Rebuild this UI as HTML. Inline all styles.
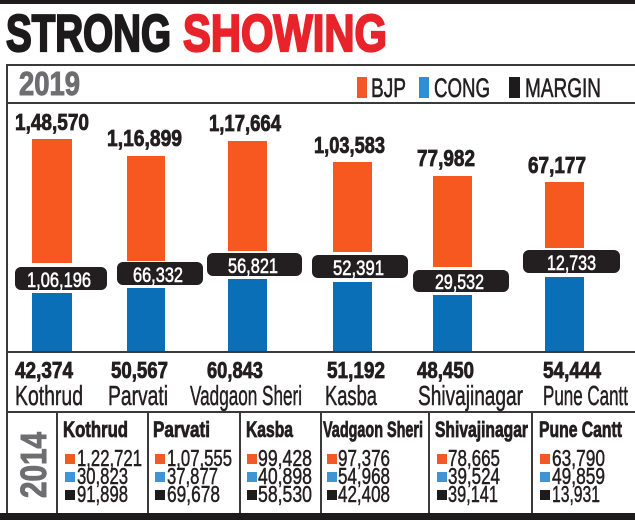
<!DOCTYPE html>
<html><head><meta charset="utf-8"><style>
html,body{margin:0;padding:0;background:#fff;}
svg{display:block;}
text{font-family:"Liberation Sans",sans-serif;}
.b{font-weight:bold;}
</style></head><body>
<svg width="635" height="520" viewBox="0 0 635 520" xmlns="http://www.w3.org/2000/svg">
<rect x="0" y="0" width="635" height="520" fill="#fff"/>
<rect x="0" y="0" width="635" height="4" fill="#1d1b1c"/>
<!-- title -->
<text class="b" x="6" y="51" font-size="52" fill="#1c1a1b" stroke="#1c1a1b" stroke-width="2.2" textLength="165" lengthAdjust="spacingAndGlyphs">STRONG</text>
<text class="b" x="183" y="51" font-size="52" fill="#e8232a" stroke="#e8232a" stroke-width="2.2" textLength="204" lengthAdjust="spacingAndGlyphs">SHOWING</text>
<!-- frame -->
<g stroke="#3a3a3a" stroke-width="2" fill="none">
<line x1="7" y1="65" x2="635" y2="65"/>
<line x1="7" y1="103" x2="635" y2="103"/>
<line x1="7" y1="352" x2="635" y2="352"/>
<line x1="7" y1="412" x2="635" y2="412"/>
<line x1="7" y1="64" x2="7" y2="514"/>
<line x1="57" y1="412" x2="57" y2="513"/>
<line x1="148" y1="412" x2="148" y2="513"/>
<line x1="240" y1="412" x2="240" y2="513"/>
<line x1="321" y1="412" x2="321" y2="513"/>
<line x1="429" y1="412" x2="429" y2="513"/>
<line x1="532" y1="412" x2="532" y2="513"/>
</g>
<rect x="0" y="513" width="635" height="7" fill="#1d1b1c"/>
<!-- header -->
<text class="b" x="19" y="95" font-size="33" fill="#6e6e70" stroke="#6e6e70" stroke-width="1" textLength="61" lengthAdjust="spacingAndGlyphs">2019</text>
<rect x="357" y="77" width="10" height="21" fill="#f15a24"/>
<text x="371" y="97" font-size="27" fill="#231f20" stroke="#231f20" stroke-width="0.6" textLength="35" lengthAdjust="spacingAndGlyphs">BJP</text>
<rect x="419" y="77" width="10" height="21" fill="#2e8fd6"/>
<text x="434" y="97" font-size="27" fill="#231f20" stroke="#231f20" stroke-width="0.6" textLength="56" lengthAdjust="spacingAndGlyphs">CONG</text>
<rect x="509" y="77" width="11" height="21" fill="#1d1b1c"/>
<text x="525" y="97" font-size="27" fill="#231f20" stroke="#231f20" stroke-width="0.6" textLength="76" lengthAdjust="spacingAndGlyphs">MARGIN</text>
<!-- bars -->
<g fill="#f7581f">
<rect x="32" y="139" width="40" height="124"/>
<rect x="127" y="156" width="38" height="105"/>
<rect x="228" y="141" width="39" height="110"/>
<rect x="333" y="162" width="39" height="90"/>
<rect x="433" y="176" width="39" height="91"/>
<rect x="545" y="182" width="39" height="66"/>
</g>
<g fill="#0b6fb8">
<rect x="32" y="293" width="40" height="58"/>
<rect x="127" y="288" width="38" height="63"/>
<rect x="228" y="279" width="39" height="72"/>
<rect x="333" y="282" width="39" height="69"/>
<rect x="433" y="295" width="39" height="56"/>
<rect x="545" y="277" width="39" height="74"/>
</g>
<!-- pills -->
<g fill="#231f20">
<rect x="15" y="267" width="92" height="23" rx="6"/>
<rect x="117" y="262" width="86" height="23" rx="6"/>
<rect x="207" y="253" width="95" height="23" rx="6"/>
<rect x="312" y="255" width="96" height="23" rx="6"/>
<rect x="413" y="270" width="96" height="22" rx="6"/>
<rect x="523" y="250" width="97" height="23" rx="6"/>
</g>
<g fill="#fff" stroke="#fff" stroke-width="0.6" font-size="21">
<text x="27" y="287" textLength="64" lengthAdjust="spacingAndGlyphs">1,06,196</text>
<text x="133" y="282" textLength="50" lengthAdjust="spacingAndGlyphs">66,332</text>
<text x="228" y="273" textLength="50" lengthAdjust="spacingAndGlyphs">56,821</text>
<text x="333" y="275" textLength="51" lengthAdjust="spacingAndGlyphs">52,391</text>
<text x="435" y="289" textLength="49" lengthAdjust="spacingAndGlyphs">29,532</text>
<text x="547" y="270" textLength="49" lengthAdjust="spacingAndGlyphs">12,733</text>
</g>
<!-- top labels -->
<g font-size="23" fill="#231f20" stroke="#231f20" stroke-width="0.8" font-weight="bold">
<text x="15" y="130" textLength="74" lengthAdjust="spacingAndGlyphs">1,48,570</text>
<text x="107" y="146" textLength="75" lengthAdjust="spacingAndGlyphs">1,16,899</text>
<text x="209" y="131" textLength="72" lengthAdjust="spacingAndGlyphs">1,17,664</text>
<text x="314" y="153" textLength="71" lengthAdjust="spacingAndGlyphs">1,03,583</text>
<text x="417" y="166" textLength="58" lengthAdjust="spacingAndGlyphs">77,982</text>
<text x="528" y="173" textLength="58" lengthAdjust="spacingAndGlyphs">67,177</text>
</g>
<!-- bottom labels -->
<g font-size="23" fill="#231f20" stroke="#231f20" stroke-width="0.8" font-weight="bold">
<text x="15" y="378" textLength="58" lengthAdjust="spacingAndGlyphs">42,374</text>
<text x="111" y="378" textLength="57" lengthAdjust="spacingAndGlyphs">50,567</text>
<text x="207" y="378" textLength="56" lengthAdjust="spacingAndGlyphs">60,843</text>
<text x="327" y="378" textLength="58" lengthAdjust="spacingAndGlyphs">51,192</text>
<text x="417" y="378" textLength="57" lengthAdjust="spacingAndGlyphs">48,450</text>
<text x="543" y="378" textLength="58" lengthAdjust="spacingAndGlyphs">54,444</text>
</g>
<g font-size="28" fill="#231f20" stroke="#231f20" stroke-width="0.5">
<text x="15" y="405" textLength="68" lengthAdjust="spacingAndGlyphs">Kothrud</text>
<text x="108" y="405" textLength="60" lengthAdjust="spacingAndGlyphs">Parvati</text>
<text x="190" y="405" textLength="112" lengthAdjust="spacingAndGlyphs">Vadgaon Sheri</text>
<text x="325" y="405" textLength="52" lengthAdjust="spacingAndGlyphs">Kasba</text>
<text x="418" y="405" textLength="105" lengthAdjust="spacingAndGlyphs">Shivajinagar</text>
<text x="543" y="405" textLength="85" lengthAdjust="spacingAndGlyphs">Pune Cantt</text>
</g>
<!-- 2014 -->
<text class="b" x="0" y="0" font-size="36" fill="#6e6e70" stroke="#6e6e70" stroke-width="1" textLength="66" lengthAdjust="spacingAndGlyphs" transform="translate(46,498) rotate(-90)">2014</text>
<g font-size="22" fill="#231f20" stroke="#231f20" stroke-width="0.8" font-weight="bold">
<text x="63" y="437" textLength="65" lengthAdjust="spacingAndGlyphs">Kothrud</text>
<text x="153" y="437" textLength="57" lengthAdjust="spacingAndGlyphs">Parvati</text>
<text x="246" y="437" textLength="47" lengthAdjust="spacingAndGlyphs">Kasba</text>
<text x="323" y="437" textLength="100" lengthAdjust="spacingAndGlyphs">Vadgaon Sheri</text>
<text x="435" y="437" textLength="93" lengthAdjust="spacingAndGlyphs">Shivajinagar</text>
<text x="539" y="437" textLength="83" lengthAdjust="spacingAndGlyphs">Pune Cantt</text>
</g>
<!-- squares -->
<g fill="#f15a24">
<rect x="65" y="454" width="10" height="10"/><rect x="155" y="454" width="10" height="10"/><rect x="247" y="454" width="10" height="10"/>
<rect x="327" y="454" width="10" height="10"/><rect x="437" y="454" width="10" height="10"/><rect x="540" y="454" width="10" height="10"/>
</g>
<g fill="#3d95d6">
<rect x="65" y="472" width="10" height="10"/><rect x="155" y="472" width="10" height="10"/><rect x="247" y="472" width="10" height="10"/>
<rect x="327" y="472" width="10" height="10"/><rect x="437" y="472" width="10" height="10"/><rect x="540" y="472" width="10" height="10"/>
</g>
<g fill="#1d1b1c">
<rect x="65" y="490" width="10" height="10"/><rect x="155" y="490" width="10" height="10"/><rect x="247" y="490" width="10" height="10"/>
<rect x="327" y="490" width="10" height="10"/><rect x="437" y="490" width="10" height="10"/><rect x="540" y="490" width="10" height="10"/>
</g>
<g font-size="23" fill="#231f20" stroke="#231f20" stroke-width="0.5">
<text x="77" y="466" textLength="65" lengthAdjust="spacingAndGlyphs">1,22,721</text>
<text x="77" y="484" textLength="51" lengthAdjust="spacingAndGlyphs">30,823</text>
<text x="77" y="502" textLength="51" lengthAdjust="spacingAndGlyphs">91,898</text>
<text x="167" y="466" textLength="65" lengthAdjust="spacingAndGlyphs">1,07,555</text>
<text x="167" y="484" textLength="51" lengthAdjust="spacingAndGlyphs">37,877</text>
<text x="167" y="502" textLength="53" lengthAdjust="spacingAndGlyphs">69,678</text>
<text x="258" y="466" textLength="54" lengthAdjust="spacingAndGlyphs">99,428</text>
<text x="258" y="484" textLength="54" lengthAdjust="spacingAndGlyphs">40,898</text>
<text x="258" y="502" textLength="54" lengthAdjust="spacingAndGlyphs">58,530</text>
<text x="338" y="466" textLength="52" lengthAdjust="spacingAndGlyphs">97,376</text>
<text x="338" y="484" textLength="52" lengthAdjust="spacingAndGlyphs">54,968</text>
<text x="338" y="502" textLength="52" lengthAdjust="spacingAndGlyphs">42,408</text>
<text x="448" y="466" textLength="52" lengthAdjust="spacingAndGlyphs">78,665</text>
<text x="448" y="484" textLength="52" lengthAdjust="spacingAndGlyphs">39,524</text>
<text x="448" y="502" textLength="50" lengthAdjust="spacingAndGlyphs">39,141</text>
<text x="552" y="466" textLength="53" lengthAdjust="spacingAndGlyphs">63,790</text>
<text x="552" y="484" textLength="53" lengthAdjust="spacingAndGlyphs">49,859</text>
<text x="552" y="502" textLength="48" lengthAdjust="spacingAndGlyphs">13,931</text>
</g>
</svg>
</body></html>
